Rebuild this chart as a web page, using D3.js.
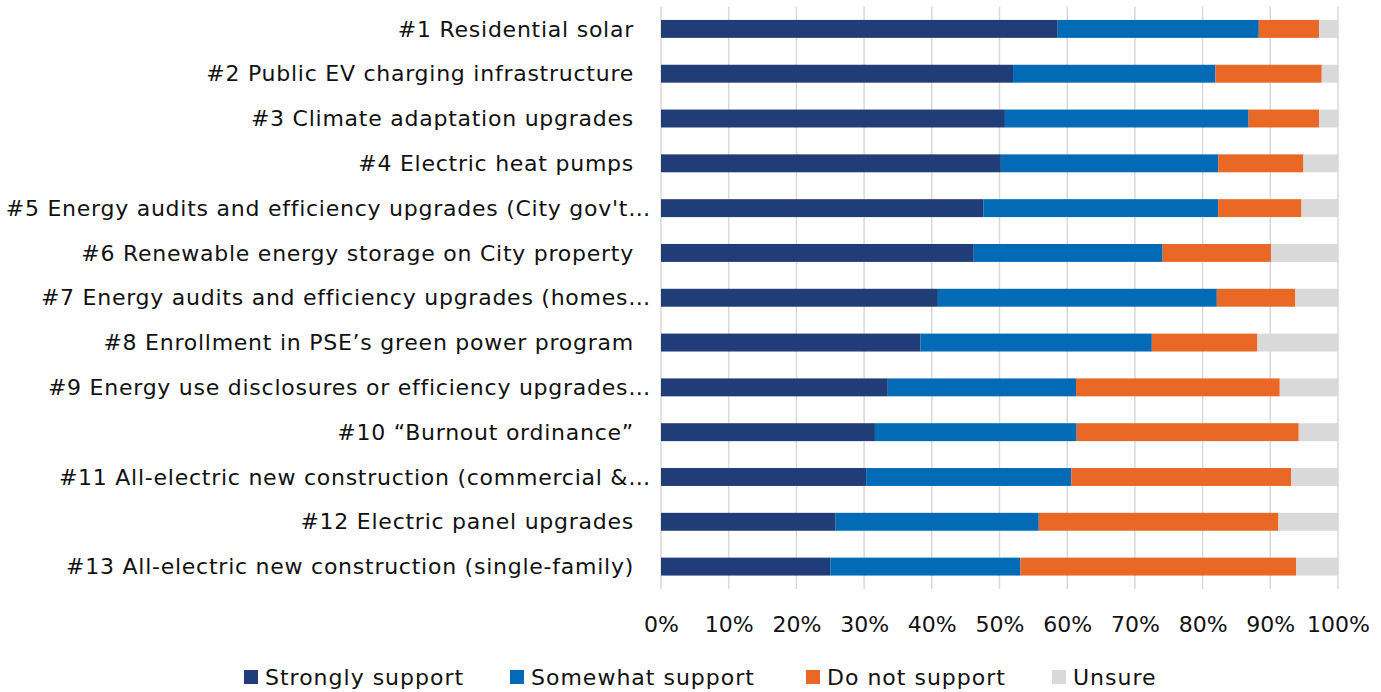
<!DOCTYPE html>
<html>
<head>
<meta charset="utf-8">
<script src="https://cdn.jsdelivr.net/npm/d3@7"></script>
<style>
  html, body { margin: 0; padding: 0; background: #fff; }
  svg { display: block; font-family: "DejaVu Sans", sans-serif; }
</style>
</head>
<body>
<svg id="chart" width="1381" height="692"></svg>
<script>
// Survey items, ranked by overall support
const categories = [
  "#1 Residential solar",
  "#2 Public EV charging infrastructure",
  "#3 Climate adaptation upgrades",
  "#4 Electric heat pumps",
  "#5 Energy audits and efficiency upgrades (City gov't…",
  "#6 Renewable energy storage on City property",
  "#7 Energy audits and efficiency upgrades (homes…",
  "#8 Enrollment in PSE’s green power program",
  "#9 Energy use disclosures or efficiency upgrades…",
  "#10 “Burnout ordinance”",
  "#11 All-electric new construction (commercial &…",
  "#12 Electric panel upgrades",
  "#13 All-electric new construction (single-family)"
];

// Share of respondents (%) per response option
const stronglySupport = [58.6, 52.0, 50.8, 50.2, 47.6, 46.2, 40.9, 38.3, 33.5, 31.6, 30.3, 25.8, 25.0];
const somewhatSupport = [29.7, 29.9, 36.0, 32.1, 34.7, 27.9, 41.2, 34.2, 27.8, 29.8, 30.3, 30.0, 28.1];
const doNotSupport    = [ 8.9, 15.7, 10.4, 12.6, 12.3, 16.0, 11.6, 15.6, 30.1, 32.8, 32.5, 35.4, 40.7];
const unsure          = [ 2.8,  2.4,  2.8,  5.1,  5.4,  9.9,  6.3, 11.9,  8.6,  5.8,  6.9,  8.8,  6.2];

const seriesNames = ["Strongly support", "Somewhat support", "Do not support", "Unsure"];
const seriesColors = ["#203d77", "#036bb5", "#e96826", "#d9d9d9"];
const xTicks = [0, 10, 20, 30, 40, 50, 60, 70, 80, 90, 100];

const rows = categories.map((c, i) => ({
  category: c,
  "Strongly support": stronglySupport[i],
  "Somewhat support": somewhatSupport[i],
  "Do not support": doNotSupport[i],
  "Unsure": unsure[i]
}));

const FONT_SIZE = 22;
const LETTER_SPACING = "0.75px";

const svg = d3.select("#chart");
const plot = { left: 661, right: 1338, top: 6.5, bottom: 589 };

const x = d3.scaleLinear().domain([0, 100]).range([plot.left, plot.right]);
const y = d3.scaleBand().domain(categories).range([plot.top, plot.bottom])
  .paddingInner(0.6).paddingOuter(0.3);
const color = d3.scaleOrdinal().domain(seriesNames).range(seriesColors);

// Vertical gridlines
svg.append("g")
  .selectAll("line")
  .data(xTicks)
  .join("line")
  .attr("x1", d => x(d)).attr("x2", d => x(d))
  .attr("y1", plot.top).attr("y2", plot.bottom)
  .attr("stroke", "#d9d9d9")
  .attr("stroke-width", 1.5);

// Stacked bars
const stacked = d3.stack().keys(seriesNames)(rows);
svg.append("g")
  .selectAll("g")
  .data(stacked)
  .join("g")
  .attr("fill", s => color(s.key))
  .selectAll("rect")
  .data(s => s)
  .join("rect")
  .attr("x", d => x(d[0]))
  .attr("width", d => x(d[1]) - x(d[0]))
  .attr("y", d => y(d.data.category))
  .attr("height", y.bandwidth());

// Category labels (truncated names sit slightly further right)
svg.append("g")
  .selectAll("text")
  .data(categories)
  .join("text")
  .attr("x", d => d.endsWith("…") ? 651 : 634)
  .attr("y", d => y(d) + y.bandwidth() / 2)
  .attr("dy", "0.35em")
  .attr("text-anchor", "end")
  .attr("font-size", FONT_SIZE)
  .attr("letter-spacing", LETTER_SPACING)
  .attr("fill", "#111")
  .text(d => d);

// X axis tick labels
const xAxis = d3.axisBottom(x)
  .tickValues(xTicks)
  .tickFormat(d => d + "%")
  .tickSize(0)
  .tickPadding(0);
const ax = svg.append("g")
  .attr("transform", `translate(0, ${plot.bottom + 27})`)
  .call(xAxis);
ax.select(".domain").remove();
ax.selectAll("text")
  .attr("font-size", FONT_SIZE)
  .attr("font-family", "DejaVu Sans, sans-serif")
  .attr("fill", "#111");

// Legend
const legendItems = [
  { name: seriesNames[0], x: 244 },
  { name: seriesNames[1], x: 510 },
  { name: seriesNames[2], x: 806 },
  { name: seriesNames[3], x: 1052 }
];
const lg = svg.append("g").selectAll("g")
  .data(legendItems)
  .join("g")
  .attr("transform", d => `translate(${d.x}, 677)`);
lg.append("rect")
  .attr("x", 0).attr("y", -7)
  .attr("width", 14).attr("height", 14)
  .attr("fill", d => color(d.name));
lg.append("text")
  .attr("x", 21)
  .attr("dy", "0.35em")
  .attr("font-size", FONT_SIZE)
  .attr("letter-spacing", "1px")
  .attr("fill", "#111")
  .text(d => d.name);
</script>
</body>
</html>
